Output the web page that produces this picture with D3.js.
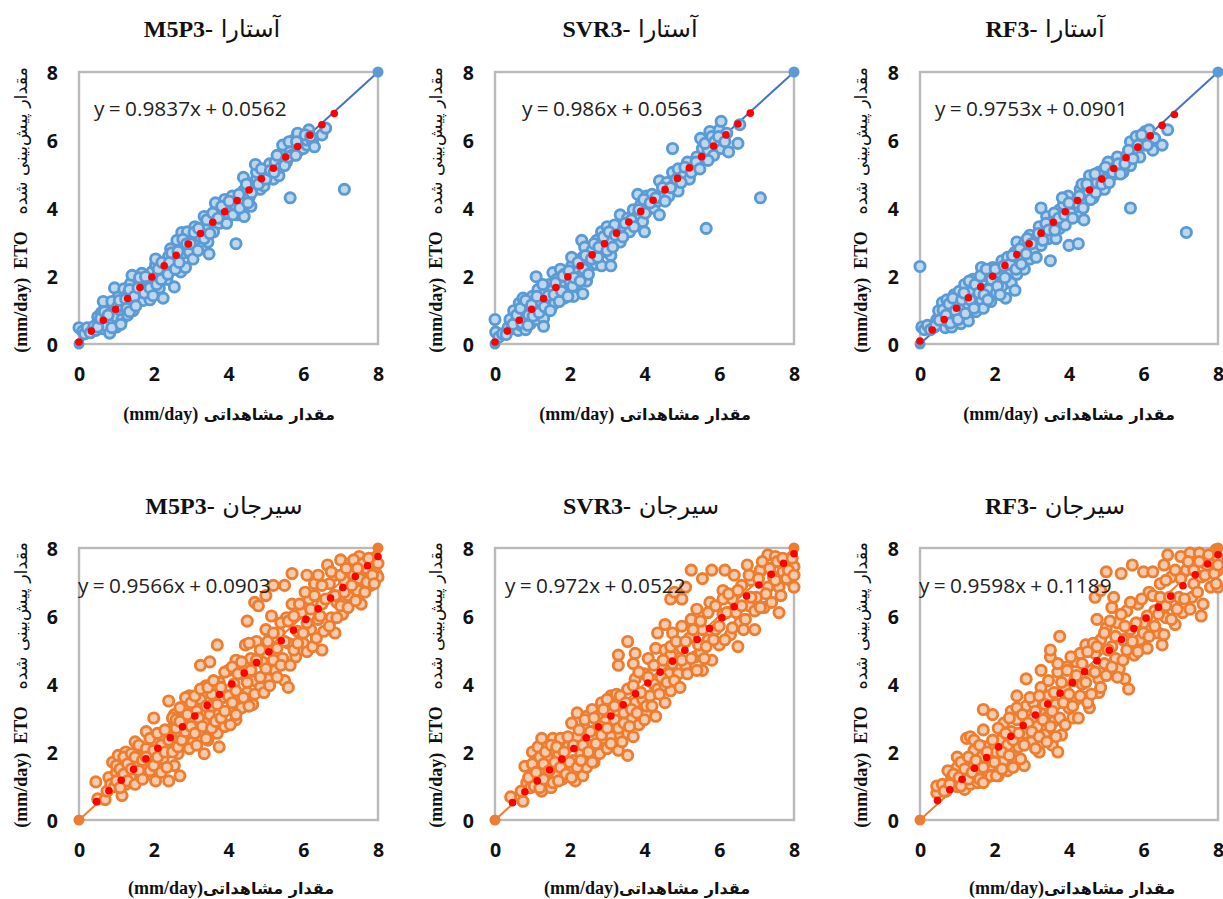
<!DOCTYPE html>
<html><head><meta charset="utf-8">
<script src="https://cdn.jsdelivr.net/npm/d3@7/dist/d3.min.js"></script>
<style>html,body{margin:0;padding:0;background:#fff}svg{display:block}</style></head>
<body><svg id="c" width="1223" height="899"></svg>
<script>
const tickLabels=[0,2,4,6,8];
const endpoints=[[0,0],[8,8]];
const redXTop=[0,0.33,0.65,0.98,1.3,1.63,1.95,2.28,2.6,2.93,3.25,3.58,3.9,4.23,4.55,4.88,5.2,5.53,5.85,6.18,6.5,6.83];
const redXBottom=[0.47,0.8,1.13,1.46,1.79,2.11,2.44,2.77,3.1,3.43,3.76,4.09,4.42,4.75,5.08,5.41,5.74,6.07,6.4,6.73,7.06,7.39,7.72,8];
const redY1=[0.06,0.38,0.7,1.02,1.34,1.66,1.97,2.3,2.61,2.94,3.25,3.58,3.89,4.22,4.53,4.86,5.17,5.5,5.81,6.14,6.45,6.78];
const redY2=[0.06,0.38,0.7,1.02,1.34,1.66,1.98,2.3,2.62,2.95,3.26,3.59,3.9,4.23,4.54,4.87,5.18,5.51,5.82,6.15,6.47,6.79];
const redY3=[0.09,0.41,0.72,1.05,1.36,1.68,1.99,2.31,2.63,2.95,3.26,3.58,3.89,4.22,4.53,4.85,5.16,5.48,5.79,6.12,6.43,6.75];
const redY4=[0.54,0.86,1.17,1.49,1.8,2.11,2.42,2.74,3.06,3.37,3.69,4.0,4.32,4.63,4.95,5.27,5.58,5.9,6.21,6.53,6.84,7.16,7.48,7.75];
const redY5=[0.51,0.83,1.15,1.47,1.79,2.1,2.42,2.74,3.06,3.39,3.71,4.03,4.35,4.67,4.99,5.31,5.63,5.95,6.27,6.59,6.91,7.23,7.55,7.83];
const redY6=[0.57,0.89,1.2,1.52,1.84,2.15,2.46,2.78,3.09,3.41,3.73,4.04,4.36,4.68,4.99,5.31,5.63,5.94,6.26,6.58,6.89,7.21,7.53,7.8];

const astaraM5P3=[0,0.48,0.1,0.38,0.15,0.3,0.22,0.48,0.3,0.33,0.4,0.52,0.45,0.4,0.5,0.8,0.55,0.62,0.6,0.92,0.62,0.45,0.7,1.1,0.72,0.72,0.75,0.52,0.82,0.32,0.65,1.25,0.85,0.95,0.9,0.66,0.95,1.15,1.0,0.8,1.0,0.5,0.95,1.65,1.05,1.38,1.1,1.0,1.15,0.72,1.2,1.62,1.2,1.2,1.3,0.85,1.3,1.45,1.38,1.78,1.4,1.1,1.45,0.98,1.42,2.02,1.5,1.55,1.55,1.25,1.6,1.82,1.65,1.4,1.72,1.28,1.68,2.08,1.8,1.55,1.85,1.92,1.9,1.3,1.95,2.12,2.0,1.72,2.02,1.46,2.05,2.32,2.1,2.0,2.15,1.65,2.05,2.5,2.25,1.35,2.3,2.2,2.35,1.9,2.4,2.58,2.5,2.2,2.55,1.68,2.45,2.8,2.6,2.42,2.7,2.9,2.72,2.12,2.62,3.05,2.8,2.68,2.85,2.25,2.75,3.28,2.95,2.72,3.0,3.1,3.05,2.5,2.9,3.3,3.15,2.9,3.1,3.45,3.25,3.15,3.3,2.85,3.4,3.4,3.45,3.0,3.48,2.65,3.35,3.75,3.55,3.62,3.6,3.3,3.7,3.95,3.75,3.55,3.65,4.15,3.85,3.7,3.9,4.25,3.95,3.55,4.05,3.95,4.1,4.35,4.2,4.05,4.25,3.8,4.35,4.15,4.42,3.75,4.2,2.95,4.4,4.5,4.4,4.9,4.55,4.3,4.65,4.65,4.6,4.05,4.75,4.85,4.85,4.55,4.75,5.05,4.72,5.28,4.95,4.65,5.05,5.05,5.1,5.3,5.2,4.85,5.25,5.35,5.35,4.95,5.4,5.2,5.45,5.6,5.45,5.85,5.55,5.35,5.65,5.65,5.7,5.55,5.75,6.0,5.9,5.7,5.95,6.1,5.85,6.2,6.0,5.75,6.1,5.85,6.15,6.3,6.1,6.0,6.25,5.95,6.3,5.8,6.5,6.15,6.6,6.35,7.1,4.55,5.65,4.3,
0.5,0.5,0.58,0.75,0.68,0.95,0.78,0.85,0.88,1.25,0.88,0.48,1.02,1.08,1.08,1.28,1.12,0.58,1.25,1.32,1.28,1.05,1.35,1.6,1.35,0.95,1.48,1.4,1.52,1.12,1.58,1.65,1.62,1.95,1.75,1.5,1.78,1.98,1.9,1.65,1.98,1.42,2.08,1.75,2.12,2.2,2.2,1.9,2.22,2.4,2.38,2.05,2.42,2.4,2.48,2.68,2.58,2.2,2.65,2.72,2.68,2.4,2.78,3.08,2.88,2.95,2.98,2.95,3.08,3.28,3.18,2.75,3.2,3.4,3.35,3.1,3.42,3.65,3.5,3.25,3.58,3.85,3.72,3.7,3.82,4.05,3.98,3.85,4.02,4.2,4.12,3.8,4.28,4.4,4.3,4.0,4.48,4.7,4.52,4.15,4.62,4.45,4.8,4.7,4.88,5.15,5.0,4.85,5.12,5.1,5.22,5.05,5.3,5.55,5.5,5.25,5.6,5.5,5.62,5.95,5.8,5.55,5.82,5.95,6.05,6.15,6.2,6.1];
const astaraSVR3=[0,0.72,0.02,0.35,0.1,0.2,0.2,0.3,0.35,0.48,0.4,0.72,0.45,0.45,0.5,0.98,0.55,0.62,0.62,0.4,0.65,1.2,0.62,0.8,0.7,0.55,0.75,1.35,0.78,0.72,0.82,0.42,0.85,1.1,0.9,0.85,0.95,0.6,1.0,1.4,1.05,1.0,1.1,0.72,1.1,1.98,1.15,1.6,1.2,1.25,1.25,0.95,1.3,0.75,1.3,0.52,1.35,1.55,1.4,1.2,1.45,1.75,1.5,1.05,1.5,1.35,1.55,1.6,1.55,2.1,1.6,1.2,1.65,1.9,1.7,1.45,1.75,2.2,1.8,1.7,1.85,1.35,1.85,2.05,1.9,1.55,2.0,1.85,2.05,2.3,2.1,1.4,2.15,2.1,2.2,1.75,2.05,2.55,2.3,2.0,2.35,2.55,2.35,1.48,2.32,3.05,2.45,1.85,2.4,2.85,2.55,2.3,2.6,2.75,2.7,2.35,2.72,3.05,2.8,2.65,2.85,2.3,2.85,3.3,2.95,2.85,3.0,3.45,3.1,2.6,3.1,3.05,3.1,2.3,3.2,3.5,3.3,3.2,3.35,3.0,3.35,3.8,3.45,3.45,3.55,3.7,3.6,3.3,3.7,3.95,3.75,3.55,3.82,4.4,3.8,3.75,3.9,4.1,3.95,3.6,4.0,3.3,4.05,4.35,4.1,3.95,4.2,4.4,4.25,4.0,4.35,4.2,4.4,3.8,4.4,4.8,4.5,4.45,4.6,4.75,4.65,4.35,4.75,5.05,4.8,4.7,4.9,4.5,4.9,5.15,5.05,4.95,5.15,5.35,5.2,4.85,5.3,5.15,5.4,5.5,5.45,5.35,5.55,5.75,5.5,6.05,5.6,5.45,5.7,5.7,5.75,6.25,5.85,5.55,5.95,6.0,6.0,6.3,6.05,5.75,6.1,6.0,6.05,6.55,6.2,6.2,6.25,5.65,6.5,5.9,6.55,6.45,4.75,5.75,7.1,4.3,5.65,3.4,
0.3,0.28,0.48,0.58,0.58,0.85,0.68,1.05,0.72,0.62,0.82,1.28,0.88,0.55,0.98,1.15,1.02,0.82,1.12,1.4,1.18,0.92,1.28,1.75,1.32,1.1,1.42,1.42,1.48,0.98,1.58,1.45,1.62,1.8,1.72,1.25,1.78,1.55,1.82,2.0,1.95,1.4,1.98,2.15,2.08,1.7,2.12,1.95,2.22,2.4,2.28,1.85,2.38,2.2,2.42,2.6,2.5,2.05,2.58,2.5,2.65,2.95,2.75,2.55,2.78,2.85,2.9,3.15,3.0,2.75,3.05,3.3,3.15,2.85,3.22,3.2,3.42,3.15,3.48,3.55,3.65,3.65,3.72,3.45,3.85,3.95,3.98,4.25,4.02,3.85,4.15,4.15,4.3,4.3,4.48,4.6,4.55,4.2,4.7,4.6,4.85,4.85,4.98,4.75,5.08,5.2,5.25,5.05,5.38,5.35,5.48,5.15,5.62,5.9,5.7,5.4,5.8,6.1,5.88,5.95,5.98,6.1,6.15,5.95];
const astaraRF3=[0,2.28,0.05,0.5,0.12,0.42,0.2,0.55,0.28,0.42,0.38,0.5,0.45,0.72,0.5,0.98,0.55,0.65,0.6,1.22,0.65,0.82,0.68,0.48,0.72,1.3,0.75,0.65,0.8,1.02,0.85,0.5,0.9,0.75,0.92,1.45,1.0,1.2,1.05,0.85,1.1,0.6,1.05,1.55,1.15,1.0,1.2,1.75,1.25,1.4,1.3,0.68,1.3,1.15,1.4,1.55,1.42,1.9,1.5,0.95,1.5,1.3,1.55,1.7,1.65,1.3,1.7,1.05,1.65,2.25,1.75,2.0,1.85,1.6,1.9,1.25,1.95,2.25,2.0,1.85,2.05,1.5,2.1,2.1,2.2,1.7,2.2,2.45,2.3,1.35,2.35,2.1,2.35,2.55,2.45,1.8,2.5,2.3,2.55,1.58,2.55,2.7,2.6,2.05,2.6,3.0,2.7,2.55,2.8,2.2,2.8,2.95,2.95,2.5,2.95,3.2,3.05,2.7,3.1,3.1,3.2,3.45,3.25,2.9,3.35,3.25,3.45,3.1,3.5,2.45,3.4,3.75,3.25,4.0,3.55,3.6,3.65,3.1,3.75,3.4,3.75,3.95,3.85,4.1,3.9,3.5,3.98,4.35,4.05,3.85,4.2,4.15,4.25,3.75,4.3,4.55,4.4,4.15,4.35,4.7,4.4,3.65,4.5,4.4,4.55,4.95,4.65,4.3,4.75,4.75,4.8,5.05,4.95,4.55,5.0,4.85,5.05,5.35,5.15,4.95,5.25,5.2,5.3,5.5,5.4,5.3,5.45,5.05,5.55,5.55,5.65,5.25,5.65,5.95,5.75,5.65,5.8,6.1,5.9,5.5,6.0,5.85,6.05,6.25,6.15,6.3,6.25,5.7,6.3,6.05,6.5,5.85,6.65,6.3,7.15,3.28,5.65,4.0,4.0,2.9,4.25,2.95,
0.42,0.55,0.52,0.7,0.62,1.0,0.7,0.85,0.78,1.18,0.82,0.62,0.88,1.35,0.95,0.98,1.02,0.72,1.12,1.3,1.18,1.5,1.22,0.9,1.32,1.85,1.35,1.3,1.45,1.05,1.48,1.75,1.58,1.5,1.62,2.0,1.72,1.45,1.78,2.2,1.82,1.3,1.92,1.9,2.02,2.2,2.08,1.7,2.15,1.45,2.25,2.3,2.28,1.95,2.42,2.35,2.48,2.6,2.58,2.2,2.68,2.8,2.72,2.35,2.85,2.65,2.88,3.1,3.0,2.95,3.12,2.55,3.18,3.25,3.3,3.05,3.38,3.55,3.45,3.35,3.6,3.85,3.62,3.35,3.72,3.7,3.82,4.3,3.88,3.8,4.0,4.15,4.1,3.7,4.28,4.35,4.38,4.0,4.48,4.7,4.58,4.25,4.7,5.0,4.72,4.45,4.88,4.7,4.98,5.2,5.08,4.75,5.18,5.05,5.32,5.3,5.38,5.0,5.5,5.3,5.6,5.7,5.72,5.45,5.85,5.85,5.95,6.15,6.1,5.85];

const sirjanM5P3=[0.45,1.12,0.5,0.62,0.7,0.6,0.75,0.85,0.8,1.25,0.85,1.05,0.9,1.7,0.95,0.98,1.0,1.4,1.05,1.9,1.1,1.2,1.15,0.72,1.15,1.6,1.25,2.0,1.25,1.05,1.35,1.35,1.35,1.75,1.5,2.3,1.45,1.25,1.55,1.6,1.6,1.95,1.65,1.3,1.75,2.05,1.8,1.55,1.85,1.35,1.8,2.6,1.95,1.8,2.0,2.3,2.05,1.15,2.1,1.55,2.15,2.05,2.0,3.0,2.25,1.8,2.25,2.45,2.4,1.15,2.4,2.1,2.5,2.7,2.55,1.6,2.6,2.35,2.55,3.1,2.65,1.95,2.7,1.3,2.7,2.55,2.4,3.5,2.8,2.85,2.8,3.35,2.9,2.2,2.95,2.6,2.95,3.65,3.05,2.95,3.05,2.3,3.15,3.2,3.2,2.6,3.25,3.55,3.35,1.95,3.35,2.85,3.4,3.95,3.45,2.35,3.5,3.1,3.55,3.7,3.25,4.55,3.5,4.65,3.7,2.55,3.75,2.15,3.75,3.15,3.75,4.05,3.7,5.15,3.85,3.6,3.9,2.75,4.0,4.4,4.05,3.25,4.15,4.0,4.2,2.95,4.2,4.7,4.3,3.55,4.35,3.3,4.4,4.3,4.45,5.15,4.5,3.75,4.5,5.85,4.6,4.75,4.65,3.4,4.7,4.1,4.75,5.25,4.7,6.4,4.8,6.3,4.85,3.9,4.9,4.65,5.0,5.6,5.0,6.6,5.05,4.15,5.15,5.0,5.15,6.0,5.2,6.9,5.25,4.4,5.35,5.5,5.5,6.9,5.45,4.75,5.5,4.1,5.55,5.95,5.6,5.2,5.6,3.9,5.7,6.35,5.7,7.25,5.8,4.8,5.85,5.55,5.95,6.1,6.0,5.2,6.1,7.2,6.15,6.5,6.2,5.6,6.3,6.95,6.4,7.2,6.4,5.9,6.5,5.0,6.5,6.35,6.65,7.5,6.7,6.95,6.75,5.95,6.85,5.5,6.85,7.2,6.9,6.4,7.0,7.65,7.05,6.05,7.1,7.05,7.2,6.6,7.25,7.55,7.35,7.2,7.45,6.75,7.5,7.75,7.6,7.1,7.55,6.35,7.7,7.4,7.8,6.9,7.9,7.55,7.95,7.25,7.85,7.7,8,7.15,
1.0,1.6,1.0,1.15,1.1,1.5,1.1,0.95,1.2,1.85,1.2,1.35,1.3,1.15,1.3,1.65,1.4,1.95,1.4,1.5,1.5,1.05,1.5,1.85,1.6,1.45,1.6,2.2,1.7,1.75,1.7,1.2,1.8,2.1,1.8,1.85,1.9,1.45,1.9,2.4,2.0,1.6,2.0,2.05,2.1,2.55,2.1,1.85,2.2,1.4,2.2,2.2,2.3,2.65,2.3,2.0,2.35,1.55,2.4,2.35,2.5,2.0,2.5,3.0,2.6,2.7,2.6,2.95,2.65,2.15,2.7,3.3,2.7,2.9,2.75,2.35,2.85,3.6,2.85,2.6,2.9,3.1,2.95,2.1,3.0,3.45,3.0,2.75,3.1,3.65,3.1,2.55,3.15,2.2,3.2,3.0,3.25,3.85,3.3,2.75,3.4,3.35,3.4,2.4,3.45,3.9,3.55,3.35,3.55,2.7,3.6,4.1,3.65,2.9,3.7,3.4,3.8,3.9,3.8,3.0,3.9,4.35,3.9,3.2,4.0,3.65,4.05,2.8,4.1,4.5,4.1,3.45,4.2,3.8,4.2,3.1,4.25,4.3,4.35,4.65,4.4,3.6,4.5,4.05,4.55,3.35,4.55,5.2,4.6,4.4,4.7,3.7,4.75,4.7,4.85,5.0,4.85,4.2,4.95,3.75,5.0,4.45,5.05,5.25,5.1,3.95,5.2,5.5,5.2,4.7,5.3,5.05,5.3,4.2,5.4,5.8,5.4,4.55,5.5,5.25,5.6,5.85,5.65,4.55,5.75,5.0,5.75,6.0,5.85,5.2,5.9,6.35,6.0,5.5,6.05,6.7,6.1,5.8,6.1,4.95,6.2,6.2,6.25,5.1,6.3,6.6,6.35,5.35,6.45,6.0,6.5,6.9,6.55,5.55,6.6,6.5,6.7,5.7,6.75,7.3,6.85,6.6,6.9,5.95,7.0,7.2,7.0,6.3,7.1,6.7,7.15,7.4,7.2,6.25,7.3,6.9,7.35,7.65,7.4,6.45,7.5,7.1,7.6,7.55,7.65,6.7,7.7,7.0,7.75,7.7,7.85,7.2,7.9,6.95,8,7.55,7.45,7.4];
const sirjanSVR3=[0.42,0.68,0.75,0.55,0.7,0.85,0.85,1.1,0.8,1.58,0.95,0.95,1.0,1.35,1.0,2.0,1.1,1.75,1.15,1.1,1.15,2.15,1.25,1.5,1.25,0.85,1.25,2.4,1.4,1.25,1.4,1.85,1.4,2.15,1.5,0.95,1.5,1.6,1.55,2.4,1.65,1.35,1.7,1.95,1.75,2.4,1.8,1.2,1.85,1.65,1.95,2.15,2.0,1.45,2.05,2.85,2.1,1.75,2.15,1.15,2.2,2.45,2.2,3.15,2.3,1.95,2.35,1.3,2.4,2.7,2.45,1.55,2.45,3.05,2.55,2.2,2.6,3.25,2.65,1.7,2.7,2.65,2.75,3.05,2.8,1.95,2.9,2.4,2.85,3.45,2.95,2.9,3.0,2.1,3.05,3.2,3.1,3.65,3.1,2.45,3.2,2.95,3.25,3.7,3.3,2.05,3.3,4.85,3.3,4.55,3.35,2.5,3.45,3.15,3.55,1.9,3.55,2.55,3.55,5.25,3.55,3.85,3.65,2.95,3.7,4.6,3.75,3.45,3.75,4.15,3.75,4.9,3.85,2.8,3.95,3.55,4.0,4.3,4.05,3.1,4.1,4.75,4.15,3.65,4.25,4.0,4.3,5.05,4.35,3.85,4.45,4.55,4.35,5.5,4.55,3.95,4.55,5.0,4.55,5.75,4.65,4.3,4.7,4.85,4.7,3.8,4.75,5.5,4.7,6.5,4.8,6.7,4.9,4.3,5.0,5.05,5.0,5.7,5.0,6.5,5.1,6.85,5.1,4.55,5.2,5.35,5.25,5.9,5.35,4.8,5.4,6.2,5.5,4.95,5.55,5.6,5.55,4.4,5.25,7.35,5.55,7.1,5.8,4.7,5.7,5.3,5.75,6.4,5.8,7.35,5.9,5.6,6.0,5.15,6.1,6.05,6.1,6.75,6.15,7.35,6.3,5.45,6.35,6.5,6.4,7.2,6.5,5.1,6.55,5.8,6.6,6.9,6.65,5.6,6.75,7.5,6.8,6.3,6.85,7.05,6.95,5.6,7.0,6.55,7.1,7.35,7.2,6.25,7.3,7.8,7.3,6.85,7.45,7.15,7.5,7.75,7.6,6.1,7.6,6.85,7.7,7.3,7.85,7.65,7.9,7.05,8,6.85,8,7.45,
0.9,1.25,1.0,1.65,1.05,1.0,1.1,1.4,1.2,1.85,1.2,0.95,1.3,1.2,1.3,1.65,1.35,2.0,1.45,1.45,1.5,2.2,1.55,1.1,1.6,1.7,1.65,2.15,1.7,1.15,1.75,1.55,1.85,2.0,1.9,1.35,1.95,2.45,2.0,1.7,2.05,1.25,2.1,2.2,2.2,1.55,2.25,2.65,2.3,1.75,2.35,2.2,2.4,2.95,2.5,2.0,2.55,2.6,2.6,1.7,2.65,3.0,2.7,2.25,2.8,2.75,2.85,2.5,2.9,3.25,3.0,2.7,3.0,3.55,3.1,2.25,3.2,3.35,3.3,2.7,3.35,3.65,3.4,2.3,3.45,2.85,3.5,3.45,3.6,2.75,3.65,3.25,3.7,2.45,3.7,3.95,3.8,3.15,3.85,4.35,3.9,3.75,4.0,2.95,4.05,3.35,4.1,4.2,4.2,3.35,4.25,4.55,4.3,3.05,4.4,3.7,4.45,4.2,4.5,4.7,4.55,3.45,4.6,4.05,4.7,5.1,4.75,4.6,4.8,4.1,4.85,5.25,4.95,3.9,5.0,4.7,5.1,5.25,5.15,4.3,5.25,4.75,5.3,5.6,5.4,4.4,5.45,5.15,5.5,5.85,5.6,4.75,5.65,5.1,5.7,6.1,5.85,5.3,5.9,6.3,6.0,5.7,6.1,6.5,6.15,5.3,6.2,6.1,6.25,6.65,6.35,5.65,6.45,6.1,6.5,6.75,6.6,6.3,6.7,5.9,6.8,7.2,6.85,6.55,6.95,6.15,7.05,7.1,7.1,6.25,7.15,7.6,7.25,6.65,7.35,7.4,7.4,6.4,7.5,7.05,7.55,7.6,7.65,6.6,7.7,7.7,7.8,7.1,7.85,7.35,7.95,7.7,8,7.2];
const sirjanRF3=[0.45,0.8,0.45,1.0,0.6,1.05,0.7,0.85,0.75,1.45,0.85,1.25,1.0,0.98,1.0,1.55,1.0,1.85,1.2,1.3,1.2,0.9,1.25,2.4,1.2,1.7,1.35,2.45,1.35,1.05,1.45,1.6,1.45,2.05,1.55,1.1,1.55,1.35,1.65,1.85,1.75,2.15,1.7,2.65,1.8,1.25,1.7,3.25,1.9,1.6,1.95,3.1,2.05,2.0,2.1,1.3,2.15,2.35,2.25,1.75,2.25,2.85,2.35,1.45,2.35,2.2,2.45,2.6,2.45,3.2,2.55,1.85,2.6,2.95,2.65,2.15,2.6,3.65,2.8,1.6,2.8,2.55,2.85,3.35,2.85,4.15,3.0,2.95,3.0,2.3,3.05,3.45,3.15,2.75,3.2,2.0,3.25,3.25,3.25,3.9,3.25,4.4,3.35,2.5,3.4,3.0,3.45,3.65,3.5,4.8,3.5,5.0,3.55,2.2,3.6,2.9,3.65,3.4,3.7,4.35,3.7,2.0,3.75,5.4,3.8,2.5,3.9,3.85,3.95,4.5,4.0,3.3,4.1,3.0,4.15,4.1,4.2,4.65,4.2,3.55,4.3,4.9,4.35,4.0,4.45,5.15,4.45,3.6,4.55,3.3,4.6,4.4,4.7,4.9,4.75,5.9,4.7,6.55,4.8,3.75,4.85,6.75,4.8,4.15,4.85,5.3,4.95,4.6,5.0,5.65,5.0,7.3,5.1,4.3,5.15,5.1,5.15,6.25,5.2,6.55,5.25,4.75,5.3,5.8,5.35,4.45,5.4,7.25,5.45,5.3,5.5,4.15,5.55,6.15,5.6,3.85,5.65,5.6,5.7,7.5,5.75,4.85,5.85,6.35,5.9,5.3,6.0,5.8,6.0,7.3,6.1,5.05,6.15,6.7,6.25,7.3,6.3,6.15,6.4,5.5,6.45,6.95,6.5,5.15,6.55,7.5,6.6,5.95,6.6,6.3,6.65,7.8,6.75,7.15,6.85,5.75,6.95,6.55,7.0,7.75,7.05,6.1,7.15,7.35,7.25,7.85,7.3,6.55,7.35,6.95,7.5,7.85,7.55,6.0,7.55,7.15,7.7,7.5,7.8,6.85,7.85,7.7,7.95,7.95,8,6.85,8,7.35,8,7.7,
0.65,0.85,0.8,1.05,0.9,1.35,1.05,1.25,1.1,1.7,1.1,1.0,1.2,1.5,1.3,1.2,1.3,1.85,1.4,1.4,1.45,2.35,1.5,1.75,1.6,1.2,1.6,2.2,1.7,1.55,1.7,1.1,1.8,2.0,1.9,1.3,1.95,2.35,2.0,1.7,2.05,1.3,2.1,2.7,2.2,2.0,2.2,1.5,2.3,2.55,2.4,1.9,2.4,3.0,2.5,2.35,2.5,1.55,2.6,3.3,2.65,2.55,2.7,1.8,2.75,3.1,2.8,2.2,2.9,2.85,2.95,3.6,3.0,2.6,3.1,3.2,3.1,2.1,3.2,3.65,3.2,2.45,3.3,2.95,3.35,3.4,3.4,2.3,3.45,4.1,3.5,2.75,3.55,3.2,3.6,3.75,3.65,2.45,3.7,4.6,3.75,3.0,3.8,4.05,3.85,3.45,3.9,2.8,3.95,4.4,4.0,3.7,4.05,4.8,4.1,3.35,4.2,4.25,4.25,3.0,4.3,3.65,4.35,4.6,4.45,4.05,4.5,4.95,4.5,3.45,4.6,3.7,4.65,5.2,4.7,4.35,4.75,5.1,4.85,3.9,4.95,5.5,5.0,4.25,5.05,5.0,5.1,5.85,5.15,4.5,5.25,5.4,5.3,4.2,5.4,6.05,5.45,4.7,5.5,5.7,5.55,5.0,5.65,6.4,5.7,5.25,5.8,5.8,5.85,4.95,5.95,6.5,6.0,5.5,6.1,6.0,6.15,5.4,6.25,6.6,6.3,5.7,6.4,6.05,6.45,6.55,6.55,5.45,6.6,7.05,6.7,6.55,6.75,5.9,6.85,7.35,6.9,6.2,7.0,7.1,7.1,6.5,7.2,7.6,7.25,6.2,7.35,7.35,7.45,6.7,7.5,7.6,7.6,6.35,7.65,7.2,7.75,7.8,7.9,7.25,7.95,6.95,8,7.5];

const panels=[
 {pts:astaraM5P3,redX:redXTop,redY:redY1,x0:79,x1:378,y0:344,y1:72,tx:212,ty:37,model:'M5P3',site:'آستارا',eq:'y = 0.9837x + 0.0562',ex:94,ey:116,lx:229,ly:420,tickR:58,ylx:20,yly:210,blue:1},
 {pts:astaraSVR3,redX:redXTop,redY:redY2,x0:495,x1:794,y0:344,y1:72,tx:630,ty:37,model:'SVR3',site:'آستارا',eq:'y = 0.986x + 0.0563',ex:522,ey:116,lx:645,ly:420,tickR:474,ylx:435,yly:210,blue:1},
 {pts:astaraRF3,redX:redXTop,redY:redY3,x0:920,x1:1218,y0:344,y1:72,tx:1045,ty:37,model:'RF3',site:'آستارا',eq:'y = 0.9753x + 0.0901',ex:935,ey:116,lx:1069,ly:420,tickR:899,ylx:860,yly:210,blue:1},
 {pts:sirjanM5P3,redX:redXBottom,redY:redY4,x0:79,x1:378,y0:820,y1:548,tx:224,ty:514,model:'M5P3',site:'سیرجان',eq:'y = 0.9566x + 0.0903',ex:78,ey:593,lx:231,ly:894,tickR:58,ylx:20,yly:685,blue:0},
 {pts:sirjanSVR3,redX:redXBottom,redY:redY5,x0:495,x1:794,y0:820,y1:548,tx:641,ty:514,model:'SVR3',site:'سیرجان',eq:'y = 0.972x + 0.0522',ex:505,ey:593,lx:647,ly:894,tickR:474,ylx:435,yly:685,blue:0},
 {pts:sirjanRF3,redX:redXBottom,redY:redY6,x0:920,x1:1218,y0:820,y1:548,tx:1055,ty:514,model:'RF3',site:'سیرجان',eq:'y = 0.9598x + 0.1189',ex:919,ey:593,lx:1072,ly:894,tickR:899,ylx:860,yly:685,blue:0}
];
const blueStyle={stroke:'#5b9bd5',fill:'#bdd7ee',line:'#4472c4',end:'#5b9bd5'};
const orangeStyle={stroke:'#ed7d31',fill:'#f8cbad',line:'#ed7d31',end:'#ed7d31'};
const svg=d3.select('#c');
const ARAB='"DejaVu Sans"';
const SERIF='"Liberation Serif"';
const SANS='"Open Sans"';

panels.forEach(p=>{
  const st=p.blue?blueStyle:orangeStyle;
  const x=d3.scaleLinear().domain([0,8]).range([p.x0,p.x1]);
  const y=d3.scaleLinear().domain([0,8]).range([p.y0,p.y1]);
  const g=svg.append('g');
  g.append('rect').attr('x',p.x0).attr('y',p.y1).attr('width',p.x1-p.x0).attr('height',p.y0-p.y1)
    .attr('fill','none').attr('stroke','#bababa').attr('stroke-width',2.4);
  const pairs=d3.range(0,p.pts.length,2).map(i=>[p.pts[i],p.pts[i+1]]);
  g.append('path').attr('d',d3.line().x(d=>x(d[0])).y(d=>y(d[1]))(endpoints))
    .attr('stroke',st.line).attr('stroke-width',2).attr('fill','none');
  g.append('g').selectAll('circle').data(pairs).join('circle')
    .attr('cx',d=>x(d[0])).attr('cy',d=>y(d[1])).attr('r',5.1)
    .attr('fill',st.fill).attr('stroke',st.stroke).attr('stroke-width',2.9);
  g.append('g').selectAll('circle').data(endpoints).join('circle')
    .attr('cx',d=>x(d[0])).attr('cy',d=>y(d[1])).attr('r',5.5).attr('fill',st.end);
  g.append('g').selectAll('circle').data(p.redX.map((v,i)=>[v,p.redY[i]])).join('circle')
    .attr('cx',d=>x(d[0])).attr('cy',d=>y(d[1])).attr('r',3.8).attr('fill','#ff0000');
  const ax=g.append('g').attr('transform',`translate(0,${p.y0+37})`)
    .call(d3.axisBottom(x).tickValues(tickLabels).tickSize(0).tickPadding(0));
  ax.select('.domain').remove();
  ax.selectAll('text').attr('dy',0).attr('y',0);
  const ay=g.append('g').attr('transform',`translate(${p.tickR},0)`)
    .call(d3.axisLeft(y).tickValues(tickLabels).tickSize(0).tickPadding(0));
  ay.select('.domain').remove();
  ay.selectAll('text').attr('x',0).attr('dy','0.36em');
  g.selectAll('.tick text').attr('font-family',SANS).attr('font-weight',700).attr('font-size',19.5).attr('fill','#111');
  g.append('text').attr('x',p.ex).attr('y',p.ey).text(p.eq)
    .attr('font-family',SANS).attr('font-size',20.8).attr('fill','#222').style('word-spacing','-1px');
  const t=g.append('text').attr('x',p.tx).attr('y',p.ty).attr('text-anchor','middle')
    .style('direction','rtl').attr('fill','#111');
  t.append('tspan').text(p.site+' ').attr('font-family',ARAB).attr('font-size',24);
  t.append('tspan').text('-'+p.model).attr('font-family',SERIF).attr('font-weight',700).attr('font-size',24);
  const xl=g.append('text').attr('x',p.lx).attr('y',p.ly).attr('text-anchor','middle')
    .style('direction','rtl').attr('fill','#111');
  xl.append('tspan').text(p.blue?'مقدار مشاهداتی ':'مقدار مشاهداتی').attr('font-family',ARAB).attr('font-weight',700).attr('font-size',16);
  xl.append('tspan').text('(mm/day)').attr('font-family',SERIF).attr('font-weight',700).attr('font-size',18);
  const yl=g.append('text').attr('transform',`translate(${p.ylx+7},${p.yly}) rotate(-90)`).attr('text-anchor','middle')
    .style('direction','rtl').attr('fill','#111');
  yl.append('tspan').text('مقدار پیش‌بینی شده\u00A0\u00A0\u00A0').attr('font-family',ARAB).attr('font-size',17.5);
  yl.append('tspan').text('ETO\u00A0\u00A0\u200F(mm/day)').attr('font-family',SERIF).attr('font-weight',700).attr('font-size',18);
});
</script></body></html>
